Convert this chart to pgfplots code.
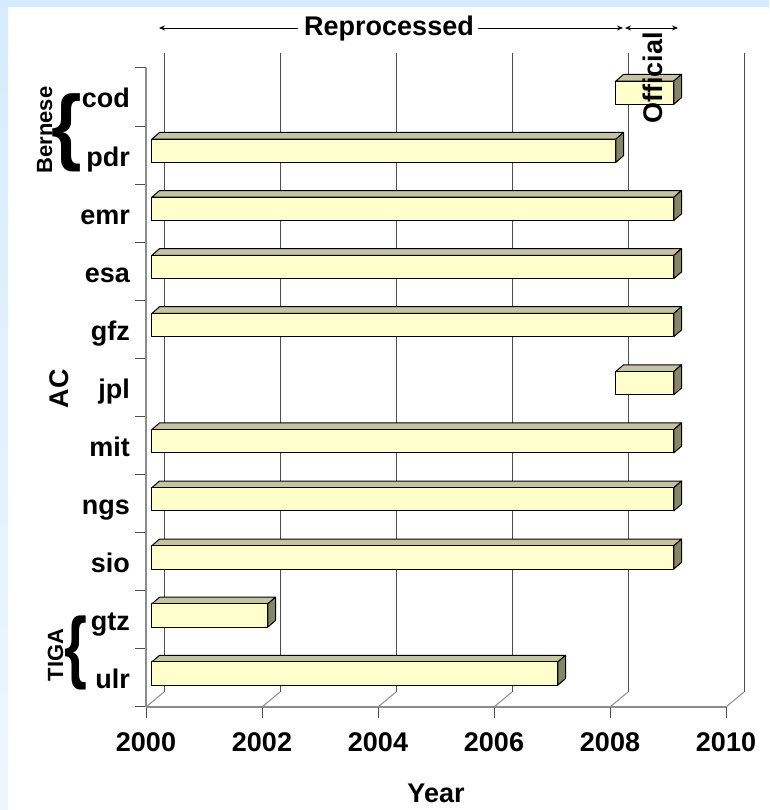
\documentclass[border=0pt]{standalone}
\usepackage{fontspec}
\setmainfont{Liberation Sans}
\usepackage{graphicx}
\usepackage{pgfplots}
\pgfplotsset{compat=1.18}
\usetikzlibrary{arrows.meta}

\definecolor{frontc}{HTML}{FFFFCC}
\definecolor{topc}{HTML}{C4C4A0}
\definecolor{sidec}{HTML}{85856A}
\definecolor{bandc}{HTML}{D6ECFC}
\definecolor{bandl}{HTML}{EEF6FD}
\definecolor{gridc}{HTML}{4D4D4D}
\definecolor{axisc}{HTML}{8C8C8C}

% #1 = category slot (0 = bottom), #2 = start year, #3 = end year
\newcommand{\barthreed}[3]{%
  \pgfmathsetmacro\xa{#2+0.1}%
  \pgfmathsetmacro\xb{#3+0.1}%
  \pgfmathsetmacro\xc{#2+0.233}%
  \pgfmathsetmacro\xd{#3+0.233}%
  \pgfmathsetmacro\ya{#1+0.375}%
  \pgfmathsetmacro\yb{#1+0.775}%
  \pgfmathsetmacro\yc{#1+0.49}%
  \pgfmathsetmacro\yd{#1+0.89}%
  \addplot[draw=black, line width=1pt, line join=round, fill=topc]
    coordinates {(\xa,\yb) (\xb,\yb) (\xd,\yd) (\xc,\yd)} -- cycle;
  \addplot[draw=black, line width=1pt, line join=round, fill=sidec]
    coordinates {(\xb,\ya) (\xd,\yc) (\xd,\yd) (\xb,\yb)} -- cycle;
  \addplot[draw=black, line width=1pt, line join=round, fill=frontc]
    coordinates {(\xa,\ya) (\xb,\ya) (\xb,\yb) (\xa,\yb)} -- cycle;
}

\newcommand{\bigfont}{\fontsize{27}{31}\selectfont\bfseries}
\newcommand{\midfont}{\fontsize{22}{26}\selectfont\bfseries}

\begin{document}
\begin{tikzpicture}[x=1pt,y=1pt]
\useasboundingbox (0,0) rectangle (769,810);
\fill[white] (0,0) rectangle (769,810);
\fill[bandc] (0,803) rectangle (769,810);
\shade[top color=bandc, bottom color=bandl] (0,0) rectangle (8,803);

\begin{axis}[
  at={(146pt,103pt)}, anchor=south west,
  scale only axis, width=580pt, height=639pt,
  xmin=2000, xmax=2010, ymin=0, ymax=11,
  axis lines*=left,
  axis line style={axisc, line width=1.5pt},
  xtick={2000,2002,2004,2006,2008,2010},
  xticklabels={2000,2002,2004,2006,2008,2010},
  ytick={0,1,2,3,4,5,6,7,8,9,10,11},
  yticklabels={,ulr,gtz,sio,ngs,mit,jpl,gfz,esa,emr,pdr,cod},
  tick align=outside, major tick length=11pt,
  tick style={gridc, line width=1pt},
  ticklabel style={font=\bigfont, inner sep=0pt},
  yticklabel style={anchor=base east, yshift=-40pt, xshift=-5pt},
  xticklabel style={anchor=north, yshift=-14pt},
  /pgf/number format/assume math mode=true,
  clip=false,
]
% back wall gridlines and floor lines
\pgfplotsinvokeforeach{2000,2002,2004,2006,2008,2010}{
  \draw[gridc, line width=1pt] ([xshift=18pt,yshift=15pt]axis cs:#1,0) -- ([xshift=18pt,yshift=15pt]axis cs:#1,11);
  \draw[axisc, line width=1pt] (axis cs:#1,0) -- ([xshift=18pt,yshift=15pt]axis cs:#1,0);
}
% bars: slot, start, end
\barthreed{10}{2008}{2009}% cod
\barthreed{9}{2000}{2008}%  pdr
\barthreed{8}{2000}{2009}%  emr
\barthreed{7}{2000}{2009}%  esa
\barthreed{6}{2000}{2009}%  gfz
\barthreed{5}{2008}{2009}%  jpl
\barthreed{4}{2000}{2009}%  mit
\barthreed{3}{2000}{2009}%  ngs
\barthreed{2}{2000}{2009}%  sio
\barthreed{1}{2000}{2002}%  gtz
\barthreed{0}{2000}{2007}%  ulr
\end{axis}

% axis titles
\node[rotate=90, anchor=base, inner sep=0pt, font=\bigfont] at (68,421) {AC};
\node[anchor=base, inner sep=0pt, font=\bigfont] at (436,7) {Year};

% group labels
\node[rotate=90, anchor=base, inner sep=0pt, font=\midfont] at (52,680) {Bernese};
\node[rotate=90, anchor=base, inner sep=0pt, font=\midfont] at (63,155) {TIGA};
\node[inner sep=0pt] at (67,677.5) {\fontsize{56}{56}\selectfont\bfseries\scalebox{1.4}[1.5]{\{}};
\node[inner sep=0pt] at (76,157.5) {\fontsize{56}{56}\selectfont\bfseries\scalebox{1.05}[1.42]{\{}};

% processing period arrows
\draw[line width=0.8pt, -{Stealth[length=6pt,width=5pt]}] (298,782) -- (159,782);
\draw[line width=0.8pt, -{Stealth[length=6pt,width=5pt]}] (478,782) -- (623,782);
\node[anchor=base, inner sep=0pt, font=\bigfont] at (389,774.5) {Reprocessed};
\draw[line width=0.8pt, {Stealth[length=6pt,width=5pt]}-{Stealth[length=6pt,width=5pt]}] (625,782) -- (678,782);
\node[rotate=90, anchor=base, inner sep=0pt, font=\bigfont] at (662,732) {Official};
\end{tikzpicture}
\end{document}
